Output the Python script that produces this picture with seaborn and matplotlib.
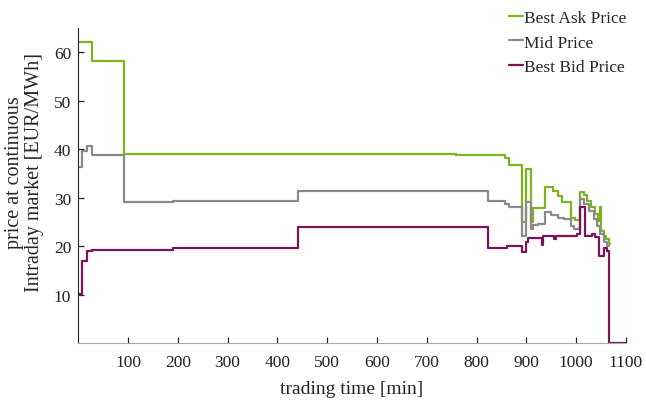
import pandas as pd
import matplotlib
matplotlib.use("Agg")
import matplotlib.pyplot as plt
import seaborn as sns

# step data: time [min] where each new price level starts
ask_t = [0, 27, 92, 759, 857, 866, 892, 899, 910, 914, 938, 954, 963, 971, 990, 997,
         1008, 1015, 1021, 1030, 1037, 1044, 1047, 1050, 1055, 1060, 1065, 1067]
ask_v = [62.2, 58.2, 39.0, 38.8, 38.2, 36.7, 24.9, 36.0, 25.0, 27.8, 32.1, 31.3, 30.4, 29.0, 25.9, 25.3,
         31.2, 30.5, 29.3, 28.0, 26.6, 25.2, 28.0, 23.2, 22.1, 21.4, 20.4, 20.4]

mid_t = [0, 8, 17, 28, 92, 191, 441, 759, 823, 857, 866, 891, 899, 909, 914, 924, 938, 949,
         963, 975, 990, 995, 1007, 1015, 1025, 1035, 1041, 1048, 1055, 1061, 1066]
mid_v = [36.4, 39.6, 40.7, 38.8, 29.2, 29.3, 31.4, 31.3, 29.3, 28.7, 28.1, 22.1, 29.0, 23.5, 24.3, 24.5, 27.1, 26.4,
         25.9, 25.6, 24.2, 23.5, 29.7, 28.7, 27.3, 25.6, 24.2, 22.5, 20.8, 20.1, 20.1]

bid_t = [0, 7, 17, 28, 148, 191, 441, 823, 862, 892, 899, 903, 931, 934, 956, 959,
         1001, 1007, 1017, 1031, 1038, 1045, 1055, 1062, 1066, 1100]
bid_v = [10.1, 17.0, 19.0, 19.2, 19.3, 19.6, 23.9, 19.7, 20.1, 18.7, 20.8, 21.6, 20.2, 22.0, 21.5, 22.1,
         22.5, 28.0, 22.0, 22.5, 21.9, 18.0, 19.7, 19.0, 0.0, 0.0]

series = ["Best Ask Price", "Mid Price", "Best Bid Price"]
colors = {"Best Ask Price": "#7AB51D", "Mid Price": "#8A8A8A", "Best Bid Price": "#7A135A"}

x_ticks = [100, 200, 300, 400, 500, 600, 700, 800, 900, 1000, 1100]
y_ticks = [10, 20, 30, 40, 50, 60]

sns.set_style("ticks")
plt.rcParams["font.family"] = ["Liberation Serif", "DejaVu Serif"]

fig = plt.figure(figsize=(6.46, 4.02), dpi=100)
ax = fig.add_axes([0.121, 0.144, 0.848, 0.784])

data = {"Best Ask Price": (ask_t, ask_v), "Mid Price": (mid_t, mid_v), "Best Bid Price": (bid_t, bid_v)}
for name in series:
    t, v = data[name]
    df = pd.DataFrame({"t": t, "v": v})
    sns.lineplot(data=df, x="t", y="v", ax=ax, color=colors[name], label=name,
                 drawstyle="steps-post", estimator=None, linewidth=1.6)

ax.set_xlim(0, 1100)
ax.set_ylim(0, 65)
ax.set_xticks(x_ticks)
ax.set_yticks(y_ticks)
ax.tick_params(bottom=True, left=True, direction="in", length=4.5, width=0.9,
               colors="#222222", labelsize=12.5)
ax.tick_params(axis="x", pad=8)
ax.tick_params(axis="y", pad=5)

for s in ["top", "right"]:
    ax.spines[s].set_visible(False)
ax.spines["left"].set_color("#222222")
ax.spines["bottom"].set_color("#aaaaaa")

ax.set_xlabel("trading time [min]", fontsize=14, labelpad=7)
ax.set_ylabel("price at continuous\nIntraday market [EUR/MWh]", fontsize=14.5, linespacing=1.1)
ax.yaxis.set_label_coords(-0.062, 0.545)

leg = ax.legend(loc="upper right", bbox_to_anchor=(1.03, 1.108), frameon=False, fontsize=12.5,
                handlelength=0.8, handletextpad=0.1, labelspacing=0.5)

fig.savefig("out.png", dpi=100)
